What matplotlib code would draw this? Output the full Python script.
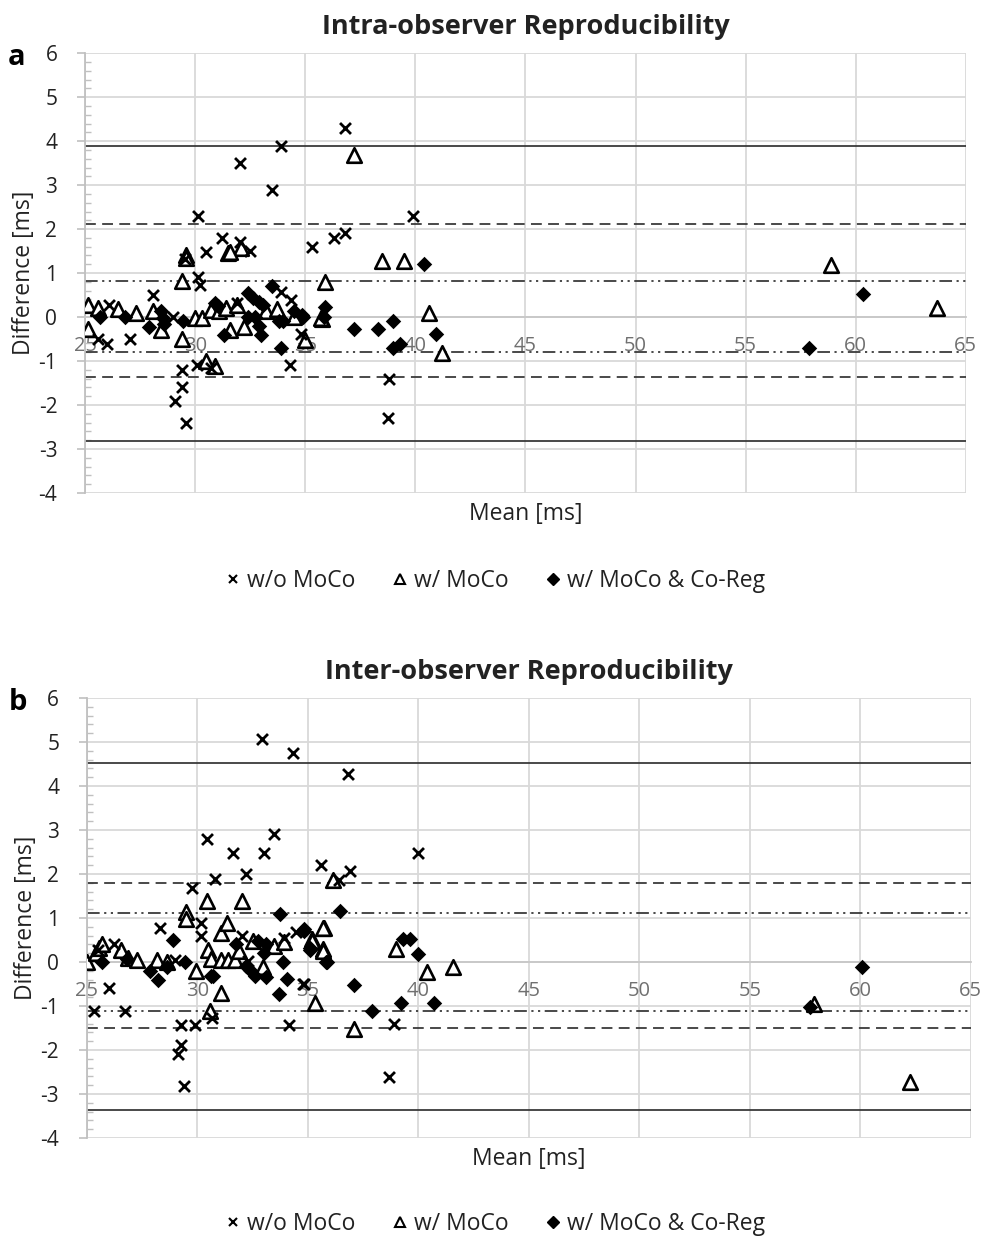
import matplotlib
matplotlib.use("Agg")
import matplotlib.pyplot as plt
from matplotlib.ticker import MultipleLocator
from matplotlib.lines import Line2D

plt.rcParams['font.family'] = ['Open Sans', 'DejaVu Sans']
plt.rcParams['axes.unicode_minus'] = False

# ---------------- Data: panel a (intra-observer) ----------------
a_womoco_x = [33.9, 32.05, 33.5, 30.15, 31.2, 32.05, 30.5, 32.5, 35.3, 36.8, 39.9, 36.3, 36.8,
              38.8, 38.75, 25.6, 26.0, 26.1, 27.05, 28.1, 29.0, 29.4, 29.4, 29.1, 29.6, 29.55,
              30.15, 30.2, 30.1, 30.7, 31.9, 33.9, 34.35, 34.3, 34.8]
a_womoco_y = [3.88, 3.5, 2.9, 2.3, 1.8, 1.7, 1.49, 1.5, 1.6, 4.3, 2.3, 1.8, 1.9,
              -1.41, -2.3, -0.5, -0.61, 0.28, -0.49, 0.51, 0.0, -1.2, -1.58, -1.92, -2.4, 1.33,
              0.92, 0.73, -1.1, -1.16, 0.32, 0.58, 0.38, -1.1, -0.38]

a_wmoco_x = [29.6, 31.5, 32.1, 37.2, 38.5, 39.5, 35.9, 35.75, 40.6, 41.2, 58.9, 63.7, 25.15,
             25.6, 25.15, 26.5, 27.3, 28.1, 28.45, 29.4, 29.4, 29.6, 30.0, 30.3, 30.5, 30.9,
             30.7, 31.1, 31.4, 31.6, 31.9, 32.2, 31.6, 33.2, 33.7, 34.5, 35.0, 35.7]
a_wmoco_y = [1.42, 1.45, 1.57, 3.69, 1.28, 1.28, 0.79, -0.05, 0.09, -0.82, 1.19, 0.2, 0.28,
             0.2, -0.27, 0.18, 0.1, 0.13, -0.3, -0.5, 0.81, 1.35, -0.02, -0.02, -1.01, -1.12,
             0.17, 0.13, 0.2, -0.29, 0.28, -0.23, 1.47, 0.13, 0.18, 0.0, -0.52, -0.02]

a_coreg_x = [40.4, 35.9, 34.9, 35.85, 37.2, 38.3, 39.0, 39.0, 39.3, 40.95, 60.35, 57.9, 25.7,
             26.8, 27.9, 28.45, 28.55, 28.6, 29.45, 30.9, 31.05, 31.3, 32.4, 32.65, 32.9, 33.1,
             32.4, 32.7, 32.9, 33.0, 33.5, 33.8, 34.0, 33.9, 34.5, 34.85]
a_coreg_y = [1.21, 0.23, 0.01, 0.0, -0.27, -0.27, -0.08, -0.70, -0.61, -0.39, 0.53, -0.70, 0.0,
             0.0, -0.23, 0.13, -0.02, -0.15, -0.08, 0.32, 0.24, -0.4, 0.55, 0.43, 0.35, 0.28,
             0.01, 0.01, -0.21, -0.4, 0.7, -0.1, -0.1, -0.71, 0.13, 0.05]

# limits of agreement (panel a): w/o MoCo (solid), w/ MoCo (dashed), Co-Reg (dash-dot-dot)
a_loa_womoco = [3.88, -2.81]
a_loa_wmoco = [2.11, -1.36]
a_loa_coreg = [0.83, -0.80]

# ---------------- Data: panel b (inter-observer) ----------------
b_womoco_x = [32.9, 34.33, 30.44, 31.6, 33.0, 33.47, 32.2, 30.8, 29.76, 35.6, 36.8, 40.0, 36.9,
              36.4, 34.8, 38.9, 38.66, 25.5, 25.33, 26.0, 26.2, 26.73, 28.3, 28.97, 29.12, 29.27,
              29.27, 29.38, 29.9, 30.14, 30.14, 30.64, 32.0, 32.3, 33.9, 34.15, 34.45, 34.76]
b_womoco_y = [5.08, 4.76, 2.79, 2.47, 2.47, 2.9, 1.99, 1.88, 1.69, 2.2, 4.28, 2.48, 2.08,
              1.86, -0.51, -1.4, -2.61, 0.28, -1.11, -0.6, 0.42, -1.11, 0.78, 0.04, -2.1, -1.89,
              -1.42, -2.82, -1.42, 0.89, 0.59, -1.28, 0.59, 0.02, 0.55, -1.42, 0.69, -0.51]

b_wmoco_x = [36.15, 35.74, 35.2, 35.7, 37.1, 35.3, 39.0, 40.4, 41.55, 57.9, 62.26, 25.0, 25.4,
             25.55, 25.7, 26.55, 26.85, 27.26, 28.17, 28.6, 29.5, 29.5, 29.95, 30.44, 30.47,
             30.6, 30.56, 31.05, 31.08, 31.35, 31.05, 31.4, 31.7, 32.0, 31.9, 32.5, 32.97, 33.47,
             33.92, 35.2, 35.7, 35.67]
b_wmoco_y = [1.86, 0.77, 0.52, 0.29, -1.52, -0.92, 0.29, -0.23, -0.11, -0.95, -2.72, -0.01, 0.21,
             0.32, 0.4, 0.27, 0.1, 0.05, 0.05, 0.0, 1.14, 0.97, -0.2, 1.39, 0.27,
             0.06, -1.11, -0.7, 0.67, 0.89, 0.05, 0.05, 0.05, 1.39, 0.25, 0.48, -0.11, 0.36,
             0.46, 0.48, 0.78, 0.25]

b_coreg_x = [36.45, 34.83, 35.1, 35.86, 37.1, 37.9, 39.3, 39.6, 39.98, 39.2, 40.7, 60.1, 57.73,
             25.7, 26.8, 27.86, 28.2, 28.6, 28.9, 29.45, 30.6, 30.7, 31.76, 32.2, 32.4, 32.6,
             32.76, 33.1, 33.0, 33.1, 33.74, 33.85, 34.05, 33.67, 34.83, 35.1, 35.8]
b_coreg_y = [1.17, 0.74, 0.31, 0.0, -0.52, -1.11, 0.52, 0.52, 0.18, -0.92, -0.92, -0.11, -1.02,
             0.0, 0.08, -0.2, -0.41, -0.11, 0.49, 0.01, -0.32, -0.32, 0.42, -0.09, -0.19, -0.32,
             0.48, 0.4, 0.21, -0.34, 1.1, 0.01, -0.39, -0.72, 0.7, 0.27, -0.01]

b_loa_womoco = [4.53, -3.37]
b_loa_wmoco = [1.79, -1.49]
b_loa_coreg = [1.11, -1.11]

x_ticks = [25, 30, 35, 40, 45, 50, 55, 60, 65]
y_ticks = [-4, -3, -2, -1, 0, 1, 2, 3, 4, 5, 6]
series_labels = ['w/o MoCo', 'w/ MoCo', 'w/ MoCo & Co-Reg']

GRID = '#d9d9d9'
LINEC = '#3a3a3a'
DASHDOTDOT = (0, (7, 2.5, 1.2, 2.5, 1.2, 2.5))

fig = plt.figure(figsize=(9.83, 12.37), dpi=100)


def make_panel(rect, title, letter, wx, wy, mx, my, cx, cy, loa_w, loa_m, loa_c, legend_y):
    ax = fig.add_axes(rect)
    ax.set_xlim(25, 65)
    ax.set_ylim(-4, 6)
    ax.set_xticks(x_ticks)
    ax.set_yticks(y_ticks)
    ax.yaxis.set_minor_locator(MultipleLocator(0.2))
    ax.grid(True, which='major', color=GRID, lw=1.3, zorder=0)
    ax.set_axisbelow(True)
    for s in ['top', 'right']:
        ax.spines[s].set_visible(False)
    ax.spines['bottom'].set_position(('data', 0))
    ax.spines['bottom'].set_color('#c8c8c8')
    ax.spines['bottom'].set_linewidth(1.3)
    ax.spines['left'].set_color('#c0c0c0')
    ax.spines['left'].set_linewidth(1.3)
    ax.tick_params(axis='x', length=0, pad=14, labelsize=14.5, labelcolor='#707070')
    ax.tick_params(axis='y', which='major', length=6, direction='out', color='#c0c0c0',
                   width=1.2, labelsize=15, labelcolor='#222222', pad=14)
    ax.tick_params(axis='y', which='minor', length=4, direction='in', color='#c0c0c0', width=1.0)
    # limits of agreement
    for v in loa_w:
        ax.axhline(v, color=LINEC, lw=1.3, zorder=2)
    for v in loa_m:
        ax.axhline(v, color=LINEC, lw=1.3, ls=(0, (6, 3.5)), zorder=2)
    for v in loa_c:
        ax.axhline(v, color=LINEC, lw=1.3, ls=DASHDOTDOT, zorder=2)
    ax.scatter(wx, wy, marker='x', s=62, color='black', linewidths=2.0, zorder=4)
    ax.scatter(mx, my, marker='^', s=110, facecolor='white', edgecolor='black', linewidths=1.9, zorder=3)
    ax.scatter(cx, cy, marker='D', s=62, color='black', linewidths=0, zorder=5)
    ax.set_ylabel('Difference [ms]', fontsize=16.5, color='#222222')
    ax.yaxis.set_label_coords(-0.056, 0.5)
    ax.text(0.5, -0.048, 'Mean [ms]', transform=ax.transAxes, ha='center', va='center',
            fontsize=16.5, color='#222222')
    ax.set_title(title, fontsize=19.5, fontweight='bold', pad=14, color='#222222')
    ax.text(-0.088, 0.99, letter, transform=ax.transAxes, fontsize=21, fontweight='bold',
            ha='left', va='center')
    handles = [
        Line2D([], [], marker='x', ls='none', color='black', ms=5.5, mew=1.5),
        Line2D([], [], marker='^', ls='none', mfc='white', mec='black', ms=7, mew=1.5),
        Line2D([], [], marker='D', ls='none', color='black', ms=6),
    ]
    fig.legend(handles, series_labels, loc='center', bbox_to_anchor=(0.502, legend_y), ncol=3,
               frameon=False, fontsize=16.5, handletextpad=0.1, columnspacing=1.45, handlelength=1.0,
               labelcolor='#222222')
    return ax


make_panel([0.0865, 0.6015, 0.896, 0.3555], 'Intra-observer Reproducibility', 'a',
           a_womoco_x, a_womoco_y, a_wmoco_x, a_wmoco_y, a_coreg_x, a_coreg_y,
           a_loa_womoco, a_loa_wmoco, a_loa_coreg, 1 - 581 / 1237)
make_panel([0.0885, 0.080, 0.899, 0.3557], 'Inter-observer Reproducibility', 'b',
           b_womoco_x, b_womoco_y, b_wmoco_x, b_wmoco_y, b_coreg_x, b_coreg_y,
           b_loa_womoco, b_loa_wmoco, b_loa_coreg, 1 - 1224 / 1237)

fig.savefig('out.png', dpi=100)
